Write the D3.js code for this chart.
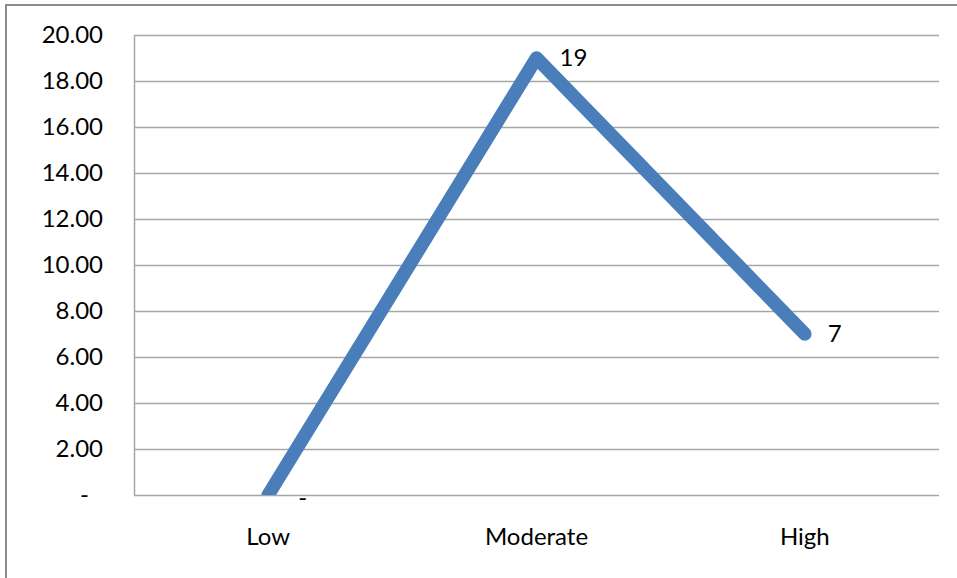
<!DOCTYPE html>
<html>
<head>
<meta charset="utf-8">
<script src="https://cdn.jsdelivr.net/npm/d3@7"></script>
<style>
  html, body { margin: 0; padding: 0; background: #fff; }
  svg { display: block; }
  text { font-family: Lato, "Open Sans", sans-serif; fill: #000; }
</style>
</head>
<body>
<svg id="chart" width="957" height="578"></svg>
<script>
// Level categories and their counts
const categories = ["Low", "Moderate", "High"];
const counts = [0, 19, 7];
// Value axis ticks
const yTicks = [0, 2, 4, 6, 8, 10, 12, 14, 16, 18, 20];

const W = 957, H = 578;
const plot = { left: 134, top: 35, right: 939, bottom: 495 };
const FONT = 24;

const svg = d3.select("#chart");

// Outer chart frame
svg.append("rect")
  .attr("x", 6).attr("y", 5)
  .attr("width", W + 10).attr("height", H + 10)
  .attr("fill", "#fff")
  .attr("stroke", "#8c8c8c")
  .attr("stroke-width", 2);

const x = d3.scaleBand()
  .domain(categories)
  .range([plot.left, plot.right]);

const y = d3.scaleLinear()
  .domain([0, 20])
  .range([plot.bottom, plot.top]);

// Accounting-style number format: zero shows as a dash
const fmtTick = v => v === 0 ? "-" : d3.format(".2f")(v);

// Horizontal gridlines
svg.append("g")
  .selectAll("line")
  .data(yTicks)
  .join("line")
  .attr("x1", plot.left).attr("x2", plot.right)
  .attr("y1", d => Math.round(y(d)) + 0.5)
  .attr("y2", d => Math.round(y(d)) + 0.5)
  .attr("stroke", "#a6a6a6")
  .attr("stroke-width", 1.5);

// Value axis
const yAxis = svg.append("g")
  .attr("transform", `translate(${plot.left},0)`)
  .call(d3.axisLeft(y).tickValues(yTicks).tickFormat(fmtTick).tickSize(0).tickPadding(31));
yAxis.select(".domain")
  .attr("stroke", "#a6a6a6").attr("stroke-width", 1.5)
  .attr("d", `M0.5,${plot.top}V${plot.bottom}`);
yAxis.selectAll("text")
  .attr("font-size", FONT)
  .attr("font-family", "Lato, 'Open Sans', sans-serif")
  .attr("fill", "#000")
  .attr("dx", d => d === 0 ? -14 : 0);

// Category axis
const xAxis = svg.append("g")
  .attr("transform", `translate(0,${plot.bottom})`)
  .call(d3.axisBottom(x).tickSize(0).tickPadding(33));
xAxis.select(".domain").remove();
xAxis.selectAll("text")
  .attr("font-size", FONT)
  .attr("font-family", "Lato, 'Open Sans', sans-serif")
  .attr("fill", "#000");

// Clip the series to the plot area
svg.append("clipPath").attr("id", "plot-clip")
  .append("rect")
  .attr("x", plot.left).attr("y", plot.top - 20)
  .attr("width", plot.right - plot.left)
  .attr("height", plot.bottom - plot.top + 20);

const points = categories.map((c, i) => ({ cat: c, value: counts[i] }));
const cx = d => x(d.cat) + x.bandwidth() / 2;

const line = d3.line()
  .x(cx)
  .y(d => y(d.value));

svg.append("path")
  .datum(points)
  .attr("clip-path", "url(#plot-clip)")
  .attr("d", line)
  .attr("fill", "none")
  .attr("stroke", "#4a7ebb")
  .attr("stroke-width", 13.5)
  .attr("stroke-linejoin", "round")
  .attr("stroke-linecap", "round");

// Data labels
svg.append("g")
  .selectAll("text")
  .data(points)
  .join("text")
  .attr("x", d => cx(d) + (d.value === 0 ? 30 : 23))
  .attr("y", d => y(d.value) + (d.value === 0 ? 3 : 0))
  .attr("dy", "0.35em")
  .attr("font-size", FONT)
  .text(d => d.value === 0 ? "-" : d3.format("d")(d.value));
</script>
</body>
</html>
